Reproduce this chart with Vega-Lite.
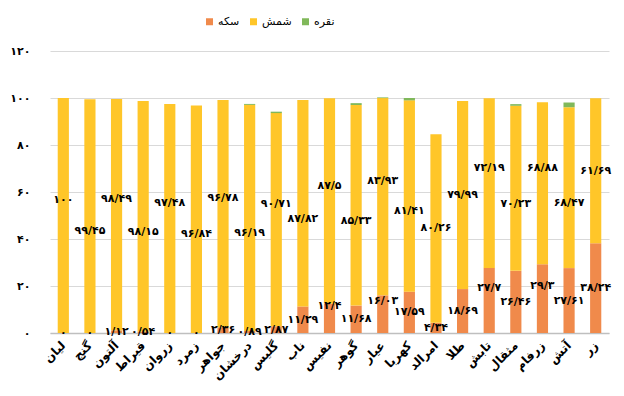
{
  "$schema": "https://vega.github.io/schema/vega-lite/v6.json",
  "width": 559,
  "height": 282,
  "autosize": "none",
  "padding": {"left": 50, "top": 51, "right": 15, "bottom": 63},
  "background": "white",
  "config": {
    "view": {"stroke": null},
    "font": "DejaVu Sans",
    "locale": {
      "number": {
        "decimal": "/",
        "thousands": ",",
        "grouping": [3],
        "currency": ["", ""],
        "numerals": ["۰", "۱", "۲", "۳", "۴", "۵", "۶", "۷", "۸", "۹"]
      }
    }
  },
  "data": {
    "values": [
      {"cat": "لیان", "series": "سکه", "value": 0},
      {"cat": "لیان", "series": "شمش", "value": 100},
      {"cat": "گنج", "series": "سکه", "value": 0},
      {"cat": "گنج", "series": "شمش", "value": 99.45},
      {"cat": "آلتون", "series": "سکه", "value": 1.12},
      {"cat": "آلتون", "series": "شمش", "value": 98.49},
      {"cat": "قیراط", "series": "سکه", "value": 0.54},
      {"cat": "قیراط", "series": "شمش", "value": 98.15},
      {"cat": "زروان", "series": "سکه", "value": 0},
      {"cat": "زروان", "series": "شمش", "value": 97.48},
      {"cat": "زمرد", "series": "سکه", "value": 0},
      {"cat": "زمرد", "series": "شمش", "value": 96.84},
      {"cat": "جواهر", "series": "سکه", "value": 2.36},
      {"cat": "جواهر", "series": "شمش", "value": 96.78},
      {"cat": "درخشان", "series": "سکه", "value": 0.89},
      {"cat": "درخشان", "series": "شمش", "value": 96.19},
      {"cat": "درخشان", "series": "نقره", "value": 0.4},
      {"cat": "گلیس", "series": "سکه", "value": 2.87},
      {"cat": "گلیس", "series": "شمش", "value": 90.71},
      {"cat": "گلیس", "series": "نقره", "value": 0.6},
      {"cat": "ناب", "series": "سکه", "value": 11.29},
      {"cat": "ناب", "series": "شمش", "value": 87.82},
      {"cat": "نفیس", "series": "سکه", "value": 12.4},
      {"cat": "نفیس", "series": "شمش", "value": 87.5},
      {"cat": "گوهر", "series": "سکه", "value": 11.68},
      {"cat": "گوهر", "series": "شمش", "value": 85.33},
      {"cat": "گوهر", "series": "نقره", "value": 0.8},
      {"cat": "عیار", "series": "سکه", "value": 16.03},
      {"cat": "عیار", "series": "شمش", "value": 83.93},
      {"cat": "عیار", "series": "نقره", "value": 0.3},
      {"cat": "کهربا", "series": "سکه", "value": 17.59},
      {"cat": "کهربا", "series": "شمش", "value": 81.41},
      {"cat": "کهربا", "series": "نقره", "value": 1.0},
      {"cat": "امرالد", "series": "سکه", "value": 4.34},
      {"cat": "امرالد", "series": "شمش", "value": 80.26},
      {"cat": "طلا", "series": "سکه", "value": 18.69},
      {"cat": "طلا", "series": "شمش", "value": 79.99},
      {"cat": "تابش", "series": "سکه", "value": 27.7},
      {"cat": "تابش", "series": "شمش", "value": 72.19},
      {"cat": "مثقال", "series": "سکه", "value": 26.46},
      {"cat": "مثقال", "series": "شمش", "value": 70.23},
      {"cat": "مثقال", "series": "نقره", "value": 0.7},
      {"cat": "زرفام", "series": "سکه", "value": 29.3},
      {"cat": "زرفام", "series": "شمش", "value": 68.88},
      {"cat": "آتش", "series": "سکه", "value": 27.61},
      {"cat": "آتش", "series": "شمش", "value": 68.47},
      {"cat": "آتش", "series": "نقره", "value": 2.0},
      {"cat": "زر", "series": "سکه", "value": 38.24},
      {"cat": "زر", "series": "شمش", "value": 61.69}
    ]
  },
  "transform": [
    {"window": [{"op": "row_number", "as": "rn"}], "groupby": ["series"]},
    {"stack": "value", "groupby": ["cat"], "sort": [{"field": "series", "order": "ascending"}], "as": ["v0", "v1"]},
    {"calculate": "(datum.v0 + datum.v1) / 2", "as": "mid"},
    {"window": [{"op": "lag", "field": "mid", "as": "pm"}, {"op": "lead", "field": "mid", "as": "nm"}], "groupby": ["series"], "sort": [{"field": "rn", "order": "ascending"}]},
    {"calculate": "min(datum.pm == null ? 999 : abs(datum.mid - datum.pm), datum.nm == null ? 999 : abs(datum.mid - datum.nm)) < 5", "as": "close"},
    {"calculate": "datum.series === 'شمش' ? (datum.close ? datum.mid + (datum.rn % 2 === 0 ? -6.5 : 6.5) : datum.mid) : ((datum.close && datum.value >= 10 && datum.rn % 2 === 1) ? datum.mid + 5.5 : datum.mid)", "as": "ly"}
  ],
  "encoding": {
    "x": {
      "field": "cat",
      "type": "nominal",
      "sort": null,
      "title": null,
      "scale": {"paddingInner": 0.58, "paddingOuter": 0.29},
      "axis": {
        "labelAngle": -45,
        "labelAlign": "right",
        "labelBaseline": "middle",
        "labelFontSize": 12,
        "labelFontWeight": "bold",
        "labelColor": "#000000",
        "labelPadding": 10,
        "ticks": false,
        "domainColor": "#bfbfbf",
        "domainWidth": 1.5
      }
    }
  },
  "layer": [
    {
      "mark": {"type": "bar"},
      "encoding": {
        "y": {
          "field": "v1",
          "type": "quantitative",
          "title": null,
          "scale": {"domain": [0, 120]},
          "axis": {
            "values": [0, 20, 40, 60, 80, 100, 120],
            "format": "~f",
            "domain": false,
            "ticks": false,
            "labelPadding": 20,
            "labelFontSize": 11,
            "labelFontWeight": "bold",
            "labelColor": "#000000",
            "gridColor": "#d9d9d9",
            "gridWidth": 1
          }
        },
        "y2": {"field": "v0"},
        "color": {
          "field": "series",
          "type": "nominal",
          "scale": {"domain": ["سکه", "شمش", "نقره"], "range": ["#F08A4B", "#FFC629", "#80B85A"]},
          "legend": {
            "title": null,
            "orient": "none",
            "direction": "horizontal",
            "legendX": 154,
            "legendY": -35,
            "symbolType": "square",
            "symbolSize": 49,
            "symbolStrokeWidth": 0,
            "labelFontSize": 11,
            "labelColor": "#000000",
            "labelOffset": 3,
            "columnPadding": 8
          }
        }
      }
    },
    {
      "transform": [{"filter": "datum.series !== 'نقره'"}],
      "mark": {"type": "text", "fontSize": 11, "fontWeight": "bold", "color": "#000000"},
      "encoding": {
        "y": {"field": "ly", "type": "quantitative"},
        "text": {"field": "value", "type": "quantitative", "format": "~f"}
      }
    }
  ]
}
